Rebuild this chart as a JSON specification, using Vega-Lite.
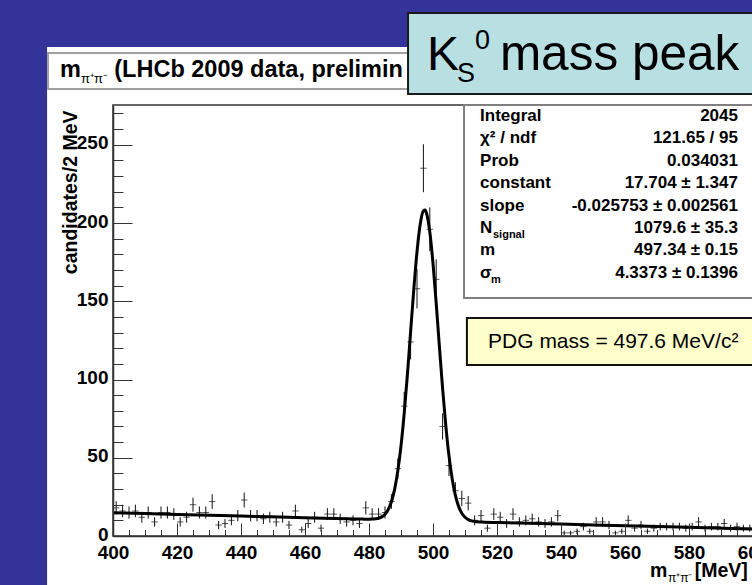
{
  "$schema": "https://vega.github.io/schema/vega-lite/v6.json",
  "width": 640,
  "height": 431,
  "autosize": {"type": "none"},
  "padding": {"left": 113, "top": 105, "right": 0, "bottom": 49},
  "background": "#343399",
  "config": {"view": {"stroke": null}, "font": "Liberation Sans"},
  "resolve": {"axis": {"x": "independent", "y": "independent"}},
  "datasets": {
    "bins": [
      {"m": 401, "n": 18, "e": 4.24}, {"m": 403, "n": 16, "e": 4}, {"m": 405, "n": 15, "e": 3.87}, {"m": 407, "n": 16, "e": 4},
      {"m": 409, "n": 12, "e": 3.46}, {"m": 411, "n": 15, "e": 3.87}, {"m": 413, "n": 9, "e": 3}, {"m": 415, "n": 15, "e": 3.87},
      {"m": 417, "n": 15, "e": 3.87}, {"m": 419, "n": 14, "e": 3.74}, {"m": 421, "n": 9, "e": 3}, {"m": 423, "n": 12, "e": 3.46},
      {"m": 425, "n": 20, "e": 4.47}, {"m": 427, "n": 15, "e": 3.87}, {"m": 429, "n": 15, "e": 3.87}, {"m": 431, "n": 22, "e": 4.69},
      {"m": 433, "n": 7, "e": 2.65}, {"m": 435, "n": 8, "e": 2.83}, {"m": 437, "n": 10, "e": 3.16}, {"m": 439, "n": 13, "e": 3.61},
      {"m": 441, "n": 23, "e": 4.8}, {"m": 443, "n": 13, "e": 3.61}, {"m": 445, "n": 13, "e": 3.61}, {"m": 447, "n": 11, "e": 3.32},
      {"m": 449, "n": 12, "e": 3.46}, {"m": 451, "n": 9, "e": 3}, {"m": 453, "n": 12, "e": 3.46}, {"m": 455, "n": 7, "e": 2.65},
      {"m": 457, "n": 16, "e": 4}, {"m": 459, "n": 4, "e": 2}, {"m": 461, "n": 8, "e": 2.83}, {"m": 463, "n": 12, "e": 3.46},
      {"m": 465, "n": 5, "e": 2.24}, {"m": 467, "n": 14, "e": 3.74}, {"m": 469, "n": 14, "e": 3.74}, {"m": 471, "n": 11, "e": 3.32},
      {"m": 473, "n": 9, "e": 3}, {"m": 475, "n": 10, "e": 3.16}, {"m": 477, "n": 8, "e": 2.83}, {"m": 479, "n": 18, "e": 4.24},
      {"m": 481, "n": 14, "e": 3.74}, {"m": 483, "n": 14, "e": 3.74}, {"m": 485, "n": 15, "e": 3.87}, {"m": 487, "n": 22, "e": 4.69},
      {"m": 489, "n": 43, "e": 6.56}, {"m": 491, "n": 83, "e": 9.11}, {"m": 493, "n": 124, "e": 11.14}, {"m": 495, "n": 158, "e": 12.57},
      {"m": 497, "n": 235, "e": 15.33}, {"m": 499, "n": 196, "e": 14}, {"m": 501, "n": 164, "e": 12.81}, {"m": 503, "n": 70, "e": 8.37},
      {"m": 505, "n": 45, "e": 6.71}, {"m": 507, "n": 29, "e": 5.39}, {"m": 509, "n": 24, "e": 4.9}, {"m": 511, "n": 21, "e": 4.58},
      {"m": 513, "n": 10, "e": 3.16}, {"m": 515, "n": 13, "e": 3.61}, {"m": 517, "n": 5, "e": 2.24}, {"m": 519, "n": 14, "e": 3.74},
      {"m": 521, "n": 12, "e": 3.46}, {"m": 523, "n": 8, "e": 2.83}, {"m": 525, "n": 14, "e": 3.74}, {"m": 527, "n": 9, "e": 3},
      {"m": 529, "n": 10, "e": 3.16}, {"m": 531, "n": 11, "e": 3.32}, {"m": 533, "n": 9, "e": 3}, {"m": 535, "n": 8, "e": 2.83},
      {"m": 537, "n": 9, "e": 3}, {"m": 539, "n": 13, "e": 3.61}, {"m": 541, "n": 2, "e": 1.41}, {"m": 543, "n": 2, "e": 1.41},
      {"m": 545, "n": 3, "e": 1.73}, {"m": 547, "n": 6, "e": 2.45}, {"m": 549, "n": 3, "e": 1.73}, {"m": 551, "n": 9, "e": 3},
      {"m": 553, "n": 9, "e": 3}, {"m": 555, "n": 7, "e": 2.65}, {"m": 557, "n": 2, "e": 1.41}, {"m": 559, "n": 3, "e": 1.73},
      {"m": 561, "n": 10, "e": 3.16}, {"m": 563, "n": 5, "e": 2.24}, {"m": 565, "n": 7, "e": 2.65}, {"m": 567, "n": 3, "e": 1.73},
      {"m": 569, "n": 5, "e": 2.24}, {"m": 571, "n": 6, "e": 2.45}, {"m": 573, "n": 6, "e": 2.45}, {"m": 575, "n": 6, "e": 2.45},
      {"m": 577, "n": 6, "e": 2.45}, {"m": 579, "n": 5, "e": 2.24}, {"m": 581, "n": 6, "e": 2.45}, {"m": 583, "n": 9, "e": 3},
      {"m": 585, "n": 5, "e": 2.24}, {"m": 587, "n": 6, "e": 2.45}, {"m": 589, "n": 6, "e": 2.45}, {"m": 591, "n": 8, "e": 2.83},
      {"m": 593, "n": 5, "e": 2.24}, {"m": 595, "n": 6, "e": 2.45}, {"m": 597, "n": 5, "e": 2.24}, {"m": 599, "n": 5, "e": 2.24}
    ],
    "fit": [
      {"m": 400, "f": 14.81}, {"m": 420, "f": 13.78}, {"m": 440, "f": 12.75}, {"m": 460, "f": 11.71},
      {"m": 478, "f": 10.8}, {"m": 480, "f": 10.75}, {"m": 481, "f": 10.8}, {"m": 482, "f": 10.96},
      {"m": 483, "f": 11.37}, {"m": 484, "f": 12.23}, {"m": 485, "f": 13.9}, {"m": 486, "f": 16.89},
      {"m": 487, "f": 21.91}, {"m": 488, "f": 29.82}, {"m": 489, "f": 41.49}, {"m": 490, "f": 57.6},
      {"m": 491, "f": 78.35}, {"m": 492, "f": 103.14}, {"m": 493, "f": 130.4}, {"m": 494, "f": 157.61},
      {"m": 495, "f": 181.61}, {"m": 496, "f": 199.21}, {"m": 497, "f": 207.8}, {"m": 497.5, "f": 208.25},
      {"m": 498, "f": 206.07}, {"m": 499, "f": 194.28}, {"m": 500, "f": 174.21}, {"m": 501, "f": 148.71},
      {"m": 502, "f": 121.07}, {"m": 503, "f": 94.26}, {"m": 504, "f": 70.54}, {"m": 505, "f": 51.16},
      {"m": 506, "f": 36.41}, {"m": 507, "f": 25.93}, {"m": 508, "f": 18.93}, {"m": 509, "f": 14.55},
      {"m": 510, "f": 11.95}, {"m": 511, "f": 10.48}, {"m": 512, "f": 9.69}, {"m": 513, "f": 9.28},
      {"m": 514, "f": 9.06}, {"m": 516, "f": 8.85}, {"m": 520, "f": 8.63}, {"m": 540, "f": 7.6},
      {"m": 560, "f": 6.57}, {"m": 580, "f": 5.54}, {"m": 600, "f": 4.5}
    ]
  },
  "layer": [
    {
      "data": {"values": [{}]},
      "mark": {"type": "rect", "fill": "#ffffff", "clip": false},
      "encoding": {
        "x": {"datum": 379.4, "type": "quantitative", "scale": {"domain": [400, 600], "nice": false, "zero": false}, "axis": null},
        "x2": {"datum": 603},
        "y": {"datum": 312.5, "type": "quantitative", "scale": {"domain": [0, 275.4], "nice": false, "zero": false}, "axis": null},
        "y2": {"datum": -35}
      }
    },
    {
      "data": {"values": [{}]},
      "mark": {"type": "rect", "fill": "#ffffff", "stroke": "#a0a0a0", "strokeWidth": 2, "clip": false},
      "encoding": {
        "x": {"datum": 379.7, "type": "quantitative", "axis": null},
        "x2": {"datum": 603},
        "y": {"datum": 308.6, "type": "quantitative", "axis": null},
        "y2": {"datum": 285.6}
      }
    },
    {
      "data": {"values": [{}]},
      "mark": {"type": "text", "text": "m", "font": "Liberation Sans", "fontWeight": "bold", "fontSize": 23.5, "align": "left", "baseline": "alphabetic", "fill": "#000000", "clip": false},
      "encoding": {"x": {"datum": 383.4, "type": "quantitative", "axis": null}, "y": {"datum": 293.0, "type": "quantitative", "axis": null}}
    },
    {
      "data": {"values": [{}]},
      "mark": {"type": "text", "text": "π⁺π⁻", "font": "Liberation Sans", "fontSize": 13, "align": "left", "baseline": "alphabetic", "fill": "#000000", "clip": false},
      "encoding": {"x": {"datum": 390.0, "type": "quantitative", "axis": null}, "y": {"datum": 289.5, "type": "quantitative", "axis": null}}
    },
    {
      "data": {"values": [{}]},
      "mark": {"type": "text", "text": "(LHCb 2009 data, preliminary)", "limit": 296, "ellipsis": " ", "font": "Liberation Sans", "fontWeight": "bold", "fontSize": 23.5, "align": "left", "baseline": "alphabetic", "fill": "#000000", "clip": false},
      "encoding": {"x": {"datum": 400.4, "type": "quantitative", "axis": null}, "y": {"datum": 293.0, "type": "quantitative", "axis": null}}
    },
    {
      "data": {"name": "bins"},
      "mark": {"type": "errorbar", "ticks": false, "color": "#111111", "thickness": 1},
      "encoding": {
        "x": {
          "field": "m", "type": "quantitative",
          "axis": {
            "orient": "bottom",
            "values": [400, 405, 410, 415, 420, 425, 430, 435, 440, 445, 450, 455, 460, 465, 470, 475, 480, 485, 490, 495, 500, 505, 510, 515, 520, 525, 530, 535, 540, 545, 550, 555, 560, 565, 570, 575, 580, 585, 590, 595, 600],
            "labels": false, "domain": false, "title": null, "grid": false,
            "tickColor": "#333333", "tickWidth": 1, "tickSize": -6.5, "zindex": 1
          }
        },
        "y": {
          "field": "n", "type": "quantitative",
          "axis": {
            "orient": "left",
            "values": [0, 10, 20, 30, 40, 50, 60, 70, 80, 90, 100, 110, 120, 130, 140, 150, 160, 170, 180, 190, 200, 210, 220, 230, 240, 250, 260, 270],
            "labels": false, "domain": false, "title": null, "grid": false,
            "tickColor": "#333333", "tickWidth": 1, "tickSize": -10, "zindex": 1
          }
        },
        "yError": {"field": "e"}
      }
    },
    {
      "data": {"name": "bins"},
      "mark": {"type": "tick", "orient": "horizontal", "color": "#111111", "thickness": 1, "size": 6.4},
      "encoding": {
        "x": {"field": "m", "type": "quantitative", "axis": null},
        "y": {"field": "n", "type": "quantitative", "axis": null}
      }
    },
    {
      "data": {"name": "fit"},
      "mark": {"type": "line", "color": "#000000", "strokeWidth": 3, "interpolate": "monotone", "clip": true},
      "encoding": {
        "x": {
          "field": "m", "type": "quantitative",
          "axis": {
            "orient": "bottom",
            "values": [400, 420, 440, 460, 480, 500, 520, 540, 560, 580, 600],
            "title": null, "grid": false,
            "domainColor": "#333333", "domainWidth": 1.5,
            "tickColor": "#333333", "tickWidth": 1, "tickSize": -13,
            "labelPadding": 20,
            "labelFont": "Liberation Sans", "labelFontWeight": "bold", "labelFontSize": 19, "labelColor": "#000000",
            "labelOverlap": false, "labelFlush": false, "labelBound": false, "zindex": 1
          }
        },
        "y": {
          "field": "f", "type": "quantitative",
          "axis": {
            "orient": "left",
            "values": [0, 50, 100, 150, 200, 250],
            "title": "candidates/2 MeV",
            "titleFont": "Liberation Sans", "titleFontWeight": "bold", "titleFontSize": 19.5, "titleColor": "#000000",
            "titleAngle": -90, "titleAlign": "right", "titleBaseline": "alphabetic", "titleX": -37, "titleY": 5,
            "grid": false,
            "domainColor": "#333333", "domainWidth": 1.5,
            "tickColor": "#333333", "tickWidth": 1, "tickSize": -19,
            "labelPadding": 24, "labelOffset": -2,
            "labelFont": "Liberation Sans", "labelFontWeight": "bold", "labelFontSize": 19, "labelColor": "#000000",
            "labelOverlap": false, "labelFlush": false, "labelBound": false, "zindex": 1
          }
        }
      }
    },
    {
      "data": {"values": [{}]},
      "mark": {"type": "rect", "filled": false, "stroke": "#333333", "strokeWidth": 1.5, "clip": false},
      "encoding": {
        "x": {"datum": 400, "type": "quantitative", "axis": null},
        "x2": {"datum": 600},
        "y": {"datum": 0, "type": "quantitative", "axis": null},
        "y2": {"datum": 275.4}
      }
    },
    {
      "data": {"values": [{}]},
      "mark": {"type": "rect", "fill": "#ffffff", "stroke": "#808080", "strokeWidth": 2, "clip": false},
      "encoding": {
        "x": {"datum": 509.7, "type": "quantitative", "axis": null},
        "x2": {"datum": 603},
        "y": {"datum": 275.4, "type": "quantitative", "axis": null},
        "y2": {"datum": 152.1}
      }
    },
    {
      "data": {"values": [{}]},
      "mark": {"type": "text", "text": ["Integral", "χ² / ndf", "Prob", "constant", "slope", "N", "m", "σ"], "lineHeight": 22.4, "font": "Liberation Sans", "fontWeight": "bold", "fontSize": 17, "align": "left", "baseline": "alphabetic", "fill": "#000000", "clip": false},
      "encoding": {"x": {"datum": 514.7, "type": "quantitative", "axis": null}, "y": {"datum": 265.2, "type": "quantitative", "axis": null}}
    },
    {
      "data": {"values": [{}]},
      "mark": {"type": "text", "text": ["2045", "121.65 / 95", "0.034031", "17.704 ± 1.347", "-0.025753 ± 0.002561", "1079.6 ± 35.3", "497.34 ± 0.15", "4.3373 ± 0.1396"], "lineHeight": 22.4, "font": "Liberation Sans", "fontWeight": "bold", "fontSize": 17, "align": "right", "baseline": "alphabetic", "fill": "#000000", "clip": false},
      "encoding": {"x": {"datum": 595.3, "type": "quantitative", "axis": null}, "y": {"datum": 265.2, "type": "quantitative", "axis": null}}
    },
    {
      "data": {"values": [{}]},
      "mark": {"type": "text", "text": "signal", "font": "Liberation Sans", "fontWeight": "bold", "fontSize": 11, "align": "left", "baseline": "alphabetic", "fill": "#000000", "clip": false},
      "encoding": {"x": {"datum": 518.75, "type": "quantitative", "axis": null}, "y": {"datum": 190.4, "type": "quantitative", "axis": null}}
    },
    {
      "data": {"values": [{}]},
      "mark": {"type": "text", "text": "m", "font": "Liberation Sans", "fontWeight": "bold", "fontSize": 11, "align": "left", "baseline": "alphabetic", "fill": "#000000", "clip": false},
      "encoding": {"x": {"datum": 518.1, "type": "quantitative", "axis": null}, "y": {"datum": 161.7, "type": "quantitative", "axis": null}}
    },
    {
      "data": {"values": [{}]},
      "mark": {"type": "rect", "fill": "#ffffcc", "stroke": "#111111", "strokeWidth": 2, "clip": false},
      "encoding": {
        "x": {"datum": 510.6, "type": "quantitative", "axis": null},
        "x2": {"datum": 603},
        "y": {"datum": 139.3, "type": "quantitative", "axis": null},
        "y2": {"datum": 109.3}
      }
    },
    {
      "data": {"values": [{}]},
      "mark": {"type": "text", "text": "PDG mass = 497.6 MeV/c²", "font": "Liberation Sans", "fontSize": 21, "align": "left", "baseline": "alphabetic", "fill": "#000000", "clip": false},
      "encoding": {"x": {"datum": 517.2, "type": "quantitative", "axis": null}, "y": {"datum": 120.1, "type": "quantitative", "axis": null}}
    },
    {
      "data": {"values": [{}]},
      "mark": {"type": "rect", "fill": "#b8e0e3", "stroke": "#1a1a1a", "strokeWidth": 2, "clip": false},
      "encoding": {
        "x": {"datum": 492.2, "type": "quantitative", "axis": null},
        "x2": {"datum": 603},
        "y": {"datum": 334.2, "type": "quantitative", "axis": null},
        "y2": {"datum": 282.4}
      }
    },
    {
      "data": {"values": [{}]},
      "mark": {"type": "text", "text": "K", "font": "Liberation Sans", "fontSize": 48, "align": "left", "baseline": "alphabetic", "fill": "#000000", "clip": false},
      "encoding": {"x": {"datum": 498.1, "type": "quantitative", "axis": null}, "y": {"datum": 297.8, "type": "quantitative", "axis": null}}
    },
    {
      "data": {"values": [{}]},
      "mark": {"type": "text", "text": "S", "font": "Liberation Sans", "fontSize": 27, "align": "left", "baseline": "alphabetic", "fill": "#000000", "clip": false},
      "encoding": {"x": {"datum": 507.5, "type": "quantitative", "axis": null}, "y": {"datum": 290.1, "type": "quantitative", "axis": null}}
    },
    {
      "data": {"values": [{}]},
      "mark": {"type": "text", "text": "0", "font": "Liberation Sans", "fontSize": 27, "align": "left", "baseline": "alphabetic", "fill": "#000000", "clip": false},
      "encoding": {"x": {"datum": 513.1, "type": "quantitative", "axis": null}, "y": {"datum": 311.5, "type": "quantitative", "axis": null}}
    },
    {
      "data": {"values": [{}]},
      "mark": {"type": "text", "text": "mass peak", "font": "Liberation Sans", "fontSize": 49.5, "align": "left", "baseline": "alphabetic", "fill": "#000000", "clip": false},
      "encoding": {"x": {"datum": 520.9, "type": "quantitative", "axis": null}, "y": {"datum": 297.8, "type": "quantitative", "axis": null}}
    },
    {
      "data": {"values": [{}]},
      "mark": {"type": "text", "text": "m", "font": "Liberation Sans", "fontWeight": "bold", "fontSize": 19.5, "align": "left", "baseline": "alphabetic", "fill": "#000000", "clip": false},
      "encoding": {"x": {"datum": 567.8, "type": "quantitative", "axis": null}, "y": {"datum": -26.5, "type": "quantitative", "axis": null}}
    },
    {
      "data": {"values": [{}]},
      "mark": {"type": "text", "text": "π⁺π⁻", "font": "Liberation Sans", "fontSize": 12, "align": "left", "baseline": "alphabetic", "fill": "#000000", "clip": false},
      "encoding": {"x": {"datum": 573.4, "type": "quantitative", "axis": null}, "y": {"datum": -29.6, "type": "quantitative", "axis": null}}
    },
    {
      "data": {"values": [{}]},
      "mark": {"type": "text", "text": "[MeV]", "font": "Liberation Sans", "fontWeight": "bold", "fontSize": 19.5, "align": "right", "baseline": "alphabetic", "fill": "#000000", "clip": false},
      "encoding": {"x": {"datum": 598.4, "type": "quantitative", "axis": null}, "y": {"datum": -26.5, "type": "quantitative", "axis": null}}
    }
  ]
}
